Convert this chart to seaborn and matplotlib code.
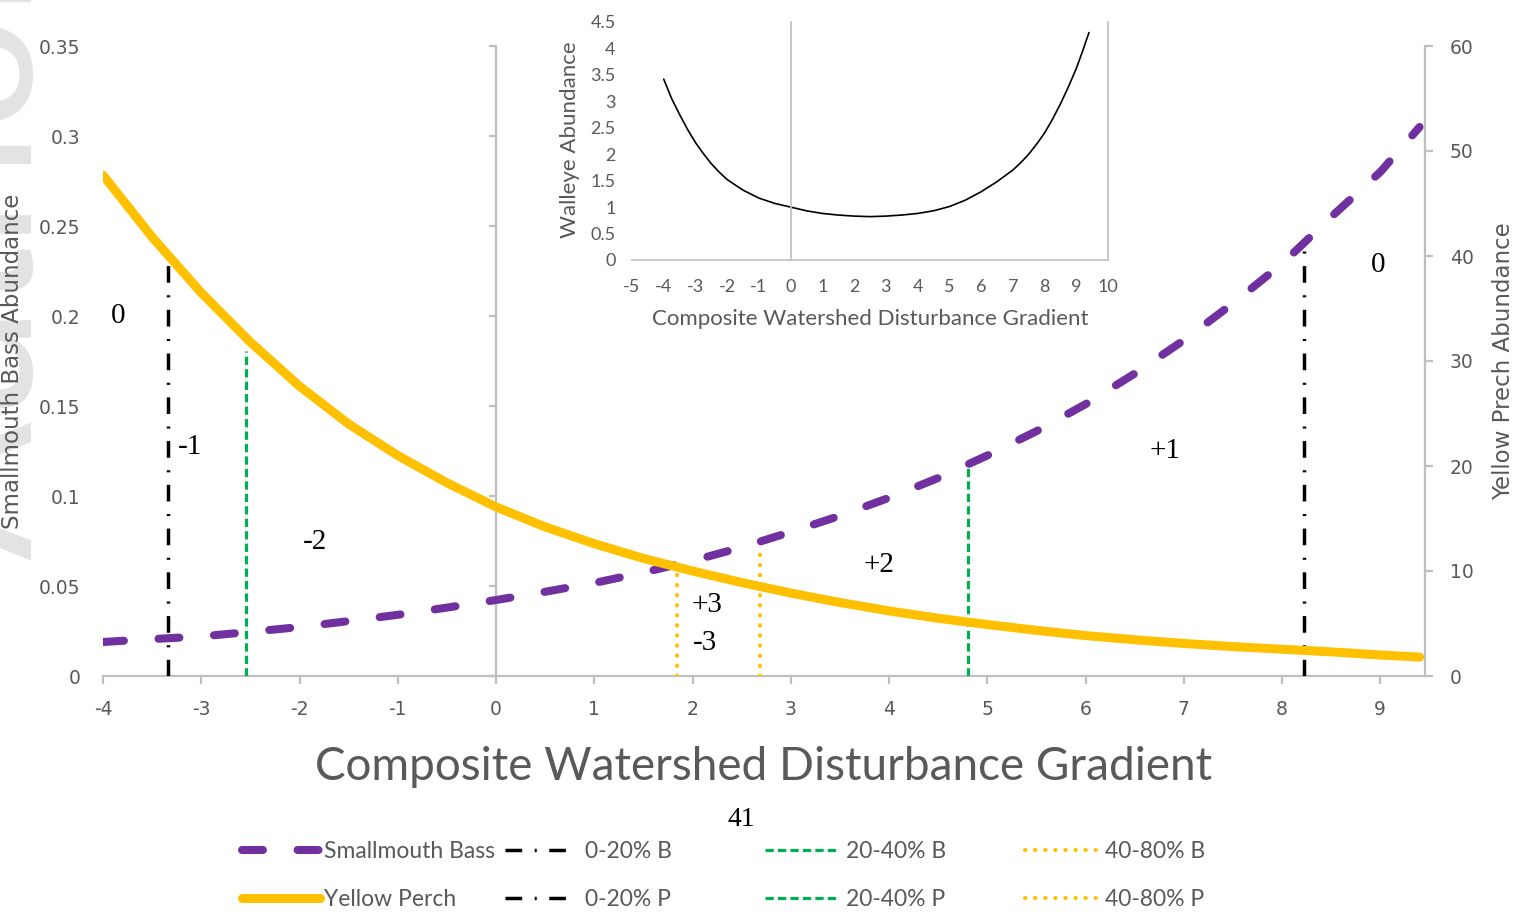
import numpy as np
import pandas as pd
import seaborn as sns
import matplotlib.pyplot as plt
from matplotlib.lines import Line2D
from matplotlib.ticker import FuncFormatter

# ---------------- data ----------------
gradient = [-4, -3.5, -3, -2.5, -2, -1.5, -1, -0.5, 0, 0.5, 1, 1.5, 2, 2.5, 3, 3.5,
            4, 4.5, 5, 5.5, 6, 6.5, 7, 7.5, 8, 8.5, 9, 9.4]
smallmouth_bass = [0.0189, 0.0205, 0.0220, 0.0245, 0.0272, 0.0305, 0.0340, 0.0380,
                   0.0422, 0.0468, 0.0517, 0.0575, 0.0640, 0.0715, 0.0800, 0.0890,
                   0.0990, 0.1100, 0.1225, 0.1360, 0.1510, 0.1680, 0.1865, 0.2070,
                   0.2290, 0.2550, 0.2800, 0.3050]
yellow_perch = [47.7, 41.8, 36.5, 31.8, 27.6, 24.0, 21.0, 18.4, 16.1, 14.2, 12.6, 11.2,
                10.0, 8.9, 7.9, 7.0, 6.2, 5.5, 4.9, 4.35, 3.85, 3.45, 3.1, 2.8, 2.55,
                2.3, 2.0, 1.8]

walleye_x = [-4, -3.75, -3.5, -3.25, -3, -2.75, -2.5, -2.25, -2, -1.5, -1, -0.5, 0,
             0.5, 1, 1.5, 2, 2.5, 3, 3.5, 4, 4.5, 5, 5.5, 6, 6.5, 7, 7.25, 7.5, 7.75,
             8, 8.25, 8.5, 8.75, 9, 9.2, 9.4]
walleye = [3.42, 3.05, 2.75, 2.47, 2.22, 2.01, 1.82, 1.66, 1.52, 1.32, 1.17, 1.07, 1.00,
           0.93, 0.88, 0.85, 0.83, 0.82, 0.83, 0.85, 0.88, 0.93, 1.01, 1.13, 1.29, 1.48,
           1.70, 1.84, 2.00, 2.19, 2.40, 2.66, 2.95, 3.27, 3.62, 3.95, 4.30]

# thresholds (x position, height of the line = curve value)
bass_thresh_x = [8.22, 4.80, 2.69]          # 0-20% B, 20-40% B, 40-80% B
bass_thresh_top = [0.238, 0.117, 0.071]
perch_thresh_x = [-3.34, -2.54, 1.84]       # 0-20% P, 20-40% P, 40-80% P
perch_thresh_top = [39.1, 31.0, 10.5]

region_labels = ["0", "-1", "-2", "+3", "-3", "+2", "+1", "0"]
region_x = [-3.85, -3.11, -1.84, 2.15, 2.13, 3.90, 6.81, 8.98]
region_y = [0.200, 0.127, 0.0744, 0.0394, 0.0183, 0.0617, 0.125, 0.2283]

main_xticks = list(range(-4, 10))
left_yticks = [0, 0.05, 0.1, 0.15, 0.2, 0.25, 0.3, 0.35]
right_yticks = [0, 10, 20, 30, 40, 50, 60]
inset_xticks = list(range(-5, 11))
inset_yticks = [0, 0.5, 1, 1.5, 2, 2.5, 3, 3.5, 4, 4.5]

series_names = ["Smallmouth Bass", "Yellow Perch"]
thresh_names_b = ["0-20% B", "20-40% B", "40-80% B"]
thresh_names_p = ["0-20% P", "20-40% P", "40-80% P"]

df = pd.DataFrame({"x": gradient, "bass": smallmouth_bass, "perch": yellow_perch})
dfw = pd.DataFrame({"x": walleye_x, "walleye": walleye})

# ---------------- style ----------------
sns.set_style("white")
plt.rcParams['font.family'] = ['DejaVu Sans']
GRAY = '#595959'
AXC = '#bfbfbf'
PURPLE = '#7030A0'
YELLOW = '#FFC000'
GREEN = '#00B050'
LATO = ['Lato', 'DejaVu Sans']
SERIF = ['Liberation Serif', 'DejaVu Serif']

W, H = 1526, 919
fig = plt.figure(figsize=(W / 100, H / 100), dpi=100)

# faint watermark at the left edge
fig.text(32 / W, 1 - 560 / H, "Author Manuscript", rotation=90, rotation_mode='anchor',
         ha='left', va='baseline', fontsize=150, color='#e3e3e3',
         family=['Liberation Sans', 'DejaVu Sans'], zorder=-5)

ax = fig.add_axes([103 / W, 243 / H, 1322 / W, 630 / H])
ax.patch.set_alpha(0)
ax2 = ax.twinx()

DASHDOT = (4.8, 3.6, 0.6, 3.6)
GDASH = (2.6, 1.3)
YDOT = (0.1, 2.4)
PDASH = (2.6, 4.3)

# Smallmouth bass (left axis)
sns.lineplot(data=df, x="x", y="bass", ax=ax, color=PURPLE, linewidth=5.8,
             estimator=None, sort=False, legend=False)
lb = ax.lines[-1]
lb.set_dashes(PDASH)
lb.set_dash_capstyle('round')
lb.set_zorder(5)

# Yellow perch (right axis)
sns.lineplot(data=df, x="x", y="perch", ax=ax2, color=YELLOW, linewidth=6.5,
             estimator=None, sort=False, legend=False)
ax2.lines[-1].set_solid_capstyle('round')
ax2.lines[-1].set_zorder(4)

styles = [dict(color='black', dashes=DASHDOT, lw=2.5, cap='butt'),
          dict(color=GREEN, dashes=GDASH, lw=2.3, cap='butt'),
          dict(color=YELLOW, dashes=YDOT, lw=2.9, cap='round')]
for xv, top, st in zip(bass_thresh_x, bass_thresh_top, styles):
    c = ax.vlines(xv, 0, top, colors=st['color'], linewidth=st['lw'],
                  linestyles=[(0, st['dashes'])], zorder=3)
    c.set_capstyle(st['cap'])
for xv, top, st in zip(perch_thresh_x, perch_thresh_top, styles):
    c = ax2.vlines(xv, 0, top, colors=st['color'], linewidth=st['lw'],
                   linestyles=[(0, st['dashes'])], zorder=3)
    c.set_capstyle(st['cap'])

for t, xv, yv in zip(region_labels, region_x, region_y):
    ax.text(xv, yv, t, ha='center', va='center', fontsize=21, family=SERIF,
            color='black', zorder=6)

ax.set_xlim(-4, 9.455)
ax.set_ylim(0, 0.35)
ax2.set_ylim(0, 60)
ax.set_xticks(main_xticks)
ax.set_yticks(left_yticks)
ax2.set_yticks(right_yticks)
fmt = FuncFormatter(lambda v, p: f"{v:g}")
ax.xaxis.set_major_formatter(fmt)
ax.yaxis.set_major_formatter(fmt)
ax2.yaxis.set_major_formatter(fmt)

for s in ['top', 'right']:
    ax.spines[s].set_visible(False)
ax.spines['left'].set_position(('data', 0))
for s in ['left', 'bottom']:
    ax.spines[s].set_color(AXC)
    ax.spines[s].set_linewidth(1.6)
for s in ['top', 'left', 'bottom']:
    ax2.spines[s].set_visible(False)
ax2.spines['right'].set_color(AXC)
ax2.spines['right'].set_linewidth(1.6)

ax.tick_params(axis='x', direction='out', length=6, width=1.6, color=AXC,
               labelsize=13.5, labelcolor=GRAY, pad=11, bottom=True)
ax.tick_params(axis='y', direction='out', length=5, width=1.6, color=AXC,
               labelsize=13.5, labelcolor=GRAY, pad=294, left=True)
ax2.tick_params(axis='y', direction='out', length=6, width=1.6, color=AXC,
                labelsize=13.5, labelcolor=GRAY, pad=12, right=True)

ax.set_xlabel("Composite Watershed Disturbance Gradient", fontsize=33,
              color=GRAY, family=LATO)
ax.xaxis.set_label_coords(0.5, -0.111)
ax.set_ylabel("Smallmouth Bass Abundance", fontsize=16.5, color=GRAY)
ax.yaxis.set_label_coords(-0.0598, 0.5)
ax2.set_ylabel("Yellow Prech Abundance", fontsize=16.5, color=GRAY, rotation=90)
ax2.yaxis.set_label_coords(1.0507, 0.5)

# ---------------- inset ----------------
axi = fig.add_axes([632 / W, 1 - 260 / H, 476 / W, 238 / H])
axi.set_facecolor('white')
sns.lineplot(data=dfw, x="x", y="walleye", ax=axi, color='black', linewidth=1.2,
             estimator=None, sort=False, legend=False)
axi.set_xlim(-5, 10)
axi.set_ylim(0, 4.5)
axi.set_xticks(inset_xticks)
axi.set_yticks(inset_yticks)
axi.xaxis.set_major_formatter(fmt)
axi.yaxis.set_major_formatter(fmt)
axi.spines['top'].set_visible(False)
axi.spines['left'].set_position(('data', 0))
for s in ['left', 'bottom', 'right']:
    axi.spines[s].set_color(AXC)
    axi.spines[s].set_linewidth(1.2)
axi.tick_params(axis='x', direction='out', length=4, width=1.2, color=AXC,
                labelsize=13, labelcolor=GRAY, pad=10)
axi.tick_params(axis='y', direction='out', length=4, width=1.2, color=AXC,
                labelsize=13, labelcolor=GRAY, pad=122, right=False)
for lab in axi.get_xticklabels() + axi.get_yticklabels():
    lab.set_family(LATO)
axi.set_xlabel("Composite Watershed Disturbance Gradient", fontsize=16,
               color=GRAY, family=LATO)
axi.xaxis.set_label_coords(0.5, -0.206)
axi.set_ylabel("Walleye Abundance", fontsize=16, color=GRAY, family=LATO)
axi.yaxis.set_label_coords(-0.109, 0.504)

# page number
fig.text(741 / W, 1 - 820 / H, "41", ha='center', va='center', fontsize=20,
         family=SERIF, color='black')

# ---------------- legend (4 columns x 2 rows) ----------------
def mk(color, lw, dashes=None, cap='butt'):
    h = Line2D([], [], color=color, linewidth=lw)
    if dashes is not None:
        h.set_dashes(dashes)
        h.set_dash_capstyle(cap)
    else:
        h.set_solid_capstyle('round')
    return h

legend_cols = [
    (242, [mk(PURPLE, 5.8, PDASH, 'round'), mk(YELLOW, 6.5)], series_names, 3.4, 0.18),
    (505, [mk('black', 2.5, DASHDOT), mk('black', 2.5, DASHDOT)],
     [thresh_names_b[0], thresh_names_p[0]], 2.7, 0.8),
    (765, [mk(GREEN, 2.3, GDASH), mk(GREEN, 2.3, GDASH)],
     [thresh_names_b[1], thresh_names_p[1]], 3.25, 0.27),
    (1025, [mk(YELLOW, 2.9, YDOT, 'round'), mk(YELLOW, 2.9, YDOT, 'round')],
     [thresh_names_b[2], thresh_names_p[2]], 3.15, 0.36),
]
for xpx, hs, labs, hl, htp in legend_cols:
    fig.legend(hs, labs, loc='upper left', bbox_to_anchor=(xpx / W, 1 - 841 / H),
               frameon=False, handlelength=hl, handletextpad=htp, borderpad=0,
               borderaxespad=0, labelspacing=1.2, labelcolor=GRAY,
               prop={'family': LATO, 'size': 16.5})

fig.savefig("out.png", dpi=100)
